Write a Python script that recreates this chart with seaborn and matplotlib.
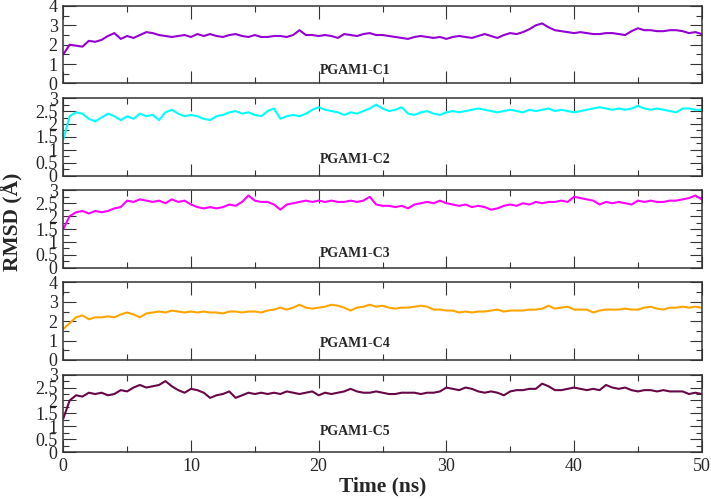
import numpy as np
import pandas as pd
import matplotlib
matplotlib.use("Agg")
import matplotlib.pyplot as plt
import seaborn as sns
from matplotlib.ticker import MultipleLocator, FormatStrFormatter

# RMSD traces (Angstrom) every 0.5 ns, 0 -> 50 ns
c1 = [1.50, 2.00, 1.95, 1.90, 2.20, 2.15, 2.25, 2.45, 2.60, 2.30, 2.45, 2.35, 2.50, 2.65, 2.60, 2.50,
      2.45, 2.40, 2.45, 2.50, 2.40, 2.55, 2.45, 2.55, 2.45, 2.40, 2.50, 2.55, 2.45, 2.40, 2.50, 2.40,
      2.40, 2.45, 2.45, 2.40, 2.50, 2.75, 2.50, 2.50, 2.45, 2.50, 2.45, 2.35, 2.55, 2.50, 2.45, 2.55,
      2.60, 2.50, 2.50, 2.45, 2.40, 2.35, 2.30, 2.40, 2.45, 2.40, 2.35, 2.40, 2.30, 2.40, 2.45, 2.40,
      2.35, 2.45, 2.55, 2.45, 2.35, 2.50, 2.60, 2.55, 2.65, 2.80, 3.00, 3.10, 2.90, 2.75, 2.70, 2.65,
      2.60, 2.65, 2.60, 2.55, 2.55, 2.60, 2.60, 2.55, 2.50, 2.70, 2.85, 2.75, 2.75, 2.70, 2.70, 2.75,
      2.75, 2.70, 2.60, 2.65, 2.55]
c2 = [1.40, 2.30, 2.45, 2.40, 2.20, 2.10, 2.25, 2.40, 2.30, 2.15, 2.30, 2.20, 2.40, 2.30, 2.35, 2.15,
      2.45, 2.55, 2.40, 2.30, 2.35, 2.30, 2.20, 2.15, 2.30, 2.35, 2.45, 2.50, 2.40, 2.45, 2.35, 2.30,
      2.50, 2.60, 2.20, 2.30, 2.35, 2.30, 2.40, 2.55, 2.65, 2.55, 2.50, 2.45, 2.35, 2.45, 2.40, 2.50,
      2.60, 2.75, 2.60, 2.50, 2.55, 2.65, 2.40, 2.35, 2.45, 2.50, 2.40, 2.35, 2.45, 2.50, 2.45, 2.50,
      2.55, 2.60, 2.55, 2.50, 2.45, 2.50, 2.55, 2.50, 2.45, 2.55, 2.50, 2.55, 2.60, 2.50, 2.55, 2.50,
      2.45, 2.50, 2.55, 2.60, 2.65, 2.60, 2.55, 2.60, 2.55, 2.60, 2.70, 2.60, 2.55, 2.60, 2.55, 2.50,
      2.45, 2.60, 2.60, 2.55, 2.55]
c3 = [1.50, 2.00, 2.15, 2.20, 2.10, 2.20, 2.15, 2.20, 2.30, 2.35, 2.60, 2.55, 2.65, 2.60, 2.55, 2.60,
      2.50, 2.65, 2.55, 2.60, 2.45, 2.35, 2.30, 2.35, 2.30, 2.35, 2.45, 2.40, 2.55, 2.80, 2.60, 2.55,
      2.55, 2.45, 2.25, 2.45, 2.50, 2.55, 2.60, 2.55, 2.60, 2.55, 2.60, 2.55, 2.55, 2.60, 2.55, 2.60,
      2.75, 2.45, 2.40, 2.40, 2.35, 2.40, 2.30, 2.45, 2.50, 2.55, 2.50, 2.60, 2.50, 2.45, 2.40, 2.45,
      2.35, 2.40, 2.35, 2.25, 2.30, 2.40, 2.45, 2.40, 2.50, 2.45, 2.55, 2.50, 2.55, 2.55, 2.60, 2.55,
      2.75, 2.70, 2.65, 2.60, 2.45, 2.55, 2.50, 2.55, 2.50, 2.45, 2.60, 2.55, 2.60, 2.55, 2.55, 2.60,
      2.60, 2.65, 2.70, 2.80, 2.65]
c4 = [1.60, 1.90, 2.20, 2.30, 2.10, 2.20, 2.20, 2.25, 2.20, 2.35, 2.45, 2.35, 2.20, 2.40, 2.45, 2.50,
      2.45, 2.55, 2.50, 2.45, 2.50, 2.45, 2.50, 2.45, 2.45, 2.40, 2.50, 2.50, 2.45, 2.50, 2.50, 2.45,
      2.55, 2.60, 2.70, 2.60, 2.70, 2.85, 2.70, 2.65, 2.70, 2.75, 2.85, 2.80, 2.70, 2.55, 2.70, 2.75,
      2.85, 2.75, 2.80, 2.70, 2.65, 2.70, 2.70, 2.75, 2.80, 2.75, 2.60, 2.60, 2.55, 2.55, 2.45, 2.50,
      2.45, 2.50, 2.50, 2.55, 2.60, 2.50, 2.55, 2.55, 2.55, 2.60, 2.60, 2.65, 2.80, 2.65, 2.70, 2.75,
      2.60, 2.60, 2.60, 2.45, 2.55, 2.60, 2.60, 2.60, 2.65, 2.60, 2.60, 2.70, 2.75, 2.65, 2.60, 2.70,
      2.70, 2.75, 2.70, 2.75, 2.70]
c5 = [1.30, 2.00, 2.20, 2.15, 2.30, 2.25, 2.30, 2.20, 2.25, 2.40, 2.35, 2.50, 2.60, 2.50, 2.55, 2.60,
      2.75, 2.55, 2.40, 2.30, 2.45, 2.40, 2.30, 2.10, 2.20, 2.25, 2.35, 2.10, 2.20, 2.30, 2.25, 2.30,
      2.25, 2.30, 2.25, 2.35, 2.30, 2.25, 2.30, 2.35, 2.20, 2.30, 2.25, 2.30, 2.35, 2.45, 2.35, 2.30,
      2.30, 2.35, 2.30, 2.25, 2.25, 2.30, 2.30, 2.30, 2.25, 2.30, 2.30, 2.35, 2.50, 2.45, 2.40, 2.50,
      2.45, 2.35, 2.30, 2.35, 2.30, 2.20, 2.35, 2.40, 2.40, 2.45, 2.45, 2.65, 2.55, 2.40, 2.40, 2.45,
      2.50, 2.45, 2.40, 2.45, 2.40, 2.60, 2.50, 2.45, 2.50, 2.40, 2.35, 2.40, 2.40, 2.35, 2.40, 2.35,
      2.35, 2.35, 2.25, 2.30, 2.25]

systems = ["PGAM1-C1", "PGAM1-C2", "PGAM1-C3", "PGAM1-C4", "PGAM1-C5"]
series = [c1, c2, c3, c4, c5]
colors = ["#9400D3", "#00FFFF", "#FF00FF", "#FFA500", "#670748"]
ymax = [4, 3, 3, 4, 3]
label_y = [0.17, 0.21, 0.19, 0.21, 0.26]

sns.set_style("ticks")
plt.rcParams['font.family'] = ['Liberation Serif', 'DejaVu Serif']

fig, axes = plt.subplots(5, 1, figsize=(7.11, 4.99), dpi=100, sharex=True)
fig.subplots_adjust(left=0.089, right=0.987, top=0.988, bottom=0.094, hspace=0.19)

for ax, name, vals, col, ym, ly in zip(axes, systems, series, colors, ymax, label_y):
    t = np.linspace(0, 50, len(vals))
    df = pd.DataFrame({"time": t, "rmsd": vals})
    sns.lineplot(data=df, x="time", y="rmsd", ax=ax, color=col, linewidth=1.5)
    ax.set_xlim(0, 50)
    ax.set_ylim(0, ym)
    ax.xaxis.set_major_locator(MultipleLocator(10))
    ax.xaxis.set_minor_locator(MultipleLocator(5))
    if ym == 4:
        ax.yaxis.set_major_locator(MultipleLocator(1))
        ax.yaxis.set_minor_locator(MultipleLocator(0.5))
    else:
        ax.yaxis.set_major_locator(MultipleLocator(0.5))
        ax.yaxis.set_minor_locator(MultipleLocator(0.25))
    ax.yaxis.set_major_formatter(FormatStrFormatter('%g'))
    ax.xaxis.set_major_formatter(FormatStrFormatter('%g'))
    ax.tick_params(which='both', direction='in', top=True, right=True,
                   width=0.8, color='#333333', labelsize=13, pad=4)
    ax.tick_params(which='major', length=9)
    ax.tick_params(which='minor', length=4.5)
    for s in ax.spines.values():
        s.set_linewidth(1.1)
        s.set_color('#333333')
    ax.set_xlabel("")
    ax.set_ylabel("")
    ax.text(0.457, ly, name, transform=ax.transAxes, ha='center', va='center',
            fontsize=10, fontweight='bold')

axes[-1].set_xlabel("Time (ns)", fontsize=15.5, fontweight='bold', labelpad=1)
fig.text(0.017, 0.555, "RMSD (Å)", rotation=90, ha='center', va='center',
         fontsize=15.5, fontweight='bold')

fig.savefig("out.png", dpi=100)
